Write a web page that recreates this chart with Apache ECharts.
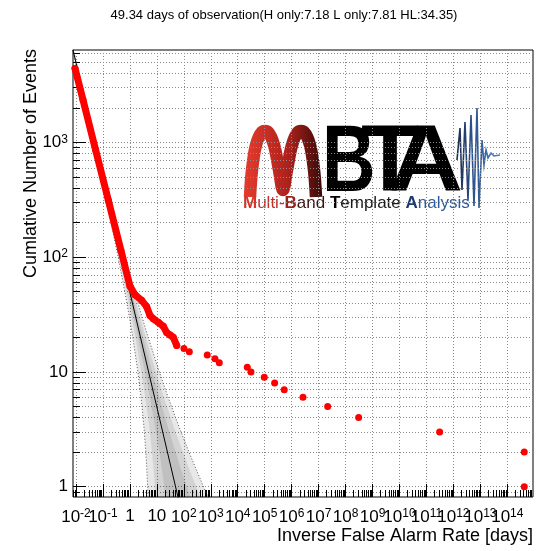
<!DOCTYPE html>
<html><head><meta charset="utf-8">
<script src="https://cdn.jsdelivr.net/npm/echarts@6/dist/echarts.min.js"></script>
<style>html,body{margin:0;padding:0;background:#fff}#c{width:537px;height:551px}</style>
</head><body><div id="c"></div>
<script>
const FONT = '"Liberation Sans", Arial, Helvetica, sans-serif';

// ---- observed events (IFAR in days, cumulative count) ----
const denseIFAR  = [0.0092, 0.0182, 0.0533, 0.158, 0.462, 1.0, 1.54, 2.73, 4.19, 5.56, 7.37, 11.3, 17.3, 23.1, 30.7, 40.6, 54.3];
const denseCount = [4400,   2340,   860,    313,   115,   56,  47,   42,   37,   31,   29,   27,   25,   22,   21,   20,   17];
const tailIFAR   = [101, 160, 740, 1430, 2070, 2.26e4, 3.1e4, 9.64e4, 2.34e5, 5.3e5, 2.63e6, 2.17e7, 3.06e8, 3.09e11, 4.25e14, 4.25e14];
const tailCount  = [16,  15,  14,  13,   12,   11,     10,    9,      8,      7,      6,      5,      4,      3,       2,       1];

// ---- expected background line and bands ----
const expectedIFAR  = [0.0077094, 70.486];
const expectedCount = [6400, 0.7];
const bandCounts = [6400, 1000, 300, 100, 50, 30, 20, 10, 6, 4, 3, 2, 1.5, 1, 0.7];
const band1Left  = [0.0076136, 0.047805, 0.15526, 0.44647, 0.85678, 1.3706, 1.9736, 3.601, 5.4822, 7.5195, 9.3046, 12.335, 14.849, 18.846, 22.687];
const band1Right = [0.0078063, 0.050924, 0.17422, 0.54526, 1.1366, 1.9736, 3.0838, 6.7603, 12.335, 20.234, 29.072, 49.34, 72.867, 129.17, 218.96];
const band2Left  = [0.0075191, 0.046316, 0.14654, 0.40409, 0.74438, 1.1440, 1.5832, 2.648, 3.7120, 4.7116, 5.4822, 6.6103, 7.4059, 8.4654, 9.2959];
const band2Right = [0.0079045, 0.052562, 0.18459, 0.60244, 1.3082, 2.3647, 3.8442, 9.1939, 18.217, 32.293, 49.34, 92.07, 146.10, 287.58, 534.42];
const band3Left  = [0.0074258, 0.044875, 0.13832, 0.36592, 0.64763, 0.95732, 1.2766, 1.9736, 2.5810, 3.0838, 3.4326, 3.8896, 4.1780, 4.5233, 4.7658];
const band3Right = [0.0080045, 0.05425, 0.19549, 0.66523, 1.5036, 2.8254, 4.7676, 12.335, 26.200, 49.34, 78.80, 156.44, 258.97, 538.22, 1042.5];

// ---- axes ----
const xTickExponents = [-2,-1,0,1,2,3,4,5,6,7,8,9,10,11,12,13,14];
const yTickExponents = [0,1,2,3];
const X_MIN = 0.00774, X_MAX = 8.97e14;
const Y_MIN = 0.813, Y_MAX = 6370;

const xMajor = xTickExponents.map(e => Math.pow(10, e));
const xLabelsEven = xTickExponents.filter(e => e % 2 === 0).map(e => Math.pow(10, e));
const xLabelsOdd  = xTickExponents.filter(e => e % 2 !== 0).map(e => Math.pow(10, e));
const yMajor = yTickExponents.map(e => Math.pow(10, e));
function minorValues(eFrom, eTo, lo, hi) {
  const out = [];
  for (let e = eFrom; e <= eTo; e++) for (let m = 2; m <= 9; m++) {
    const v = m * Math.pow(10, e);
    if (v > lo && v < hi) out.push(v);
  }
  return out;
}
const xMinor = minorValues(-3, 14, X_MIN, X_MAX);
const yMinor = minorValues(-1, 3, Y_MIN, Y_MAX);

function powLabel(v) {
  const e = Math.round(Math.log10(v));
  if (e === 0) return '1';
  if (e === 1) return '10';
  return '10{s|' + e + '}';
}

const pair = (xs, ys) => xs.map((x, i) => [x, ys[i]]);
const bands = [
  {left: band3Left, right: band3Right},
  {left: band2Left, right: band2Right},
  {left: band1Left, right: band1Right}
];

const gridBox = {left: 73, right: 4, top: 50, bottom: 54, outerBoundsMode: 'none', containLabel: false};
const gridLine = {show: true, lineStyle: {color: '#8a8a8a', width: 1, type: [1, 2]}};
const labelRich = {s: {fontSize: 12, fontFamily: FONT, color: '#000', verticalAlign: 'top', padding: [0, 0, 6, 0]}};
const xLabelBase = {show: true, formatter: powLabel, margin: 11, fontSize: 17, fontFamily: FONT, color: '#000', rich: labelRich,
                    showMinLabel: true, showMaxLabel: true, hideOverlap: false};

const option = {
  animation: false,
  backgroundColor: '#fff',
  grid: [
    Object.assign({show: true, borderColor: '#000', borderWidth: 1, backgroundColor: 'rgba(0,0,0,0)'}, gridBox),
    Object.assign({show: false}, gridBox)
  ],
  xAxis: [
    {type: 'log', logBase: 10, min: X_MIN, max: X_MAX, position: 'bottom', gridIndex: 0,
     axisLine: {show: false},
     axisTick: {show: true, inside: true, length: 13, lineStyle: {color: '#000'}, customValues: xMajor},
     axisLabel: Object.assign({customValues: xLabelsEven}, xLabelBase),
     splitLine: gridLine, minorTick: {show: false}},
    {type: 'log', logBase: 10, min: X_MIN, max: X_MAX, position: 'bottom', gridIndex: 1,
     axisLine: {show: false},
     axisTick: {show: true, inside: true, length: 7, lineStyle: {color: '#000'}, customValues: xMinor},
     axisLabel: Object.assign({customValues: xLabelsOdd}, xLabelBase),
     splitLine: {show: false}}
  ],
  yAxis: [
    {type: 'log', logBase: 10, min: Y_MIN, max: Y_MAX, position: 'left', gridIndex: 0,
     axisLine: {show: false},
     axisTick: {show: true, inside: true, length: 13, lineStyle: {color: '#000'}, customValues: yMajor},
     axisLabel: {show: true, customValues: yMajor, formatter: powLabel, margin: 5, fontSize: 17, fontFamily: FONT, color: '#000', rich: labelRich,
                 showMinLabel: true, showMaxLabel: true, hideOverlap: false},
     splitLine: gridLine},
    {type: 'log', logBase: 10, min: Y_MIN, max: Y_MAX, position: 'left', gridIndex: 1,
     axisLine: {show: false},
     axisTick: {show: true, inside: true, length: 7, lineStyle: {color: '#000'}, customValues: yMinor},
     axisLabel: {show: false}, splitLine: gridLine}
  ],
  series: [
    {type: 'custom', name: 'bands', xAxisIndex: 0, yAxisIndex: 0, clip: true, silent: true, z: 1,
     data: bands.map(() => [1, 1]),
     renderItem: function (params, api) {
       const b = bands[params.dataIndex];
       const pts = [];
       for (let i = 0; i < bandCounts.length; i++) pts.push(api.coord([b.left[i], bandCounts[i]]));
       for (let i = bandCounts.length - 1; i >= 0; i--) pts.push(api.coord([b.right[i], bandCounts[i]]));
       const cs = params.coordSys;
       return {type: 'polygon', shape: {points: pts}, style: {fill: 'rgba(0,0,0,0.09)'},
               clipPath: {type: 'rect', shape: {x: cs.x, y: cs.y, width: cs.width, height: cs.height}}};
     }},
    {type: 'line', name: 'band3L', xAxisIndex: 0, yAxisIndex: 0, data: pair(band3Left, bandCounts), showSymbol: false, silent: true, z: 2,
     lineStyle: {color: '#555', width: 1, type: [1, 2]}},
    {type: 'line', name: 'band3R', xAxisIndex: 0, yAxisIndex: 0, data: pair(band3Right, bandCounts), showSymbol: false, silent: true, z: 2,
     lineStyle: {color: '#555', width: 1, type: [1, 2]}},
    {type: 'line', name: 'expected', xAxisIndex: 0, yAxisIndex: 0, data: pair(expectedIFAR, expectedCount), showSymbol: false, silent: true, z: 3,
     lineStyle: {color: '#000', width: 1}},
    {type: 'line', name: 'eventsDense', xAxisIndex: 0, yAxisIndex: 0, data: pair(denseIFAR, denseCount), showSymbol: true, symbol: 'circle', symbolSize: 7, z: 4,
     itemStyle: {color: '#ff0000'}, lineStyle: {color: '#ff0000', width: 7, cap: 'round', join: 'round'}},
    {type: 'scatter', name: 'eventsTail', xAxisIndex: 0, yAxisIndex: 0, data: pair(tailIFAR, tailCount), symbol: 'circle', symbolSize: 7, z: 4,
     itemStyle: {color: '#ff0000', opacity: 1}}
  ],
  graphic: [
    {type: 'text', x: 284, y: 15, style: {text: '49.34 days of observation(H only:7.18 L only:7.81 HL:34.35)', font: '13px ' + FONT, fill: '#000', textAlign: 'center', textVerticalAlign: 'middle'}},
    {type: 'text', x: 31.5, y: 49, rotation: Math.PI / 2, style: {text: 'Cumlative Number of Events', font: '18px ' + FONT, fill: '#000', textAlign: 'right', textVerticalAlign: 'middle'}},
    {type: 'text', x: 533, y: 536, style: {text: 'Inverse False Alarm Rate [days]', font: '18px ' + FONT, fill: '#000', textAlign: 'right', textVerticalAlign: 'middle'}},
    // logo
    {type: 'group', z: 100, children: [
      {type: 'rect', shape: {x: 236, y: 99, width: 270, height: 115}, style: {fill: '#fff'}},
      {type: 'polyline', shape: {points: [[250,197],[252,170],[256,145],[262,132],[268,132],[274,145],[279,170],[283,190],[287,170],[292,145],[298,132],[304,132],[310,145],[314,170],[316,197]], smooth: 0.35},
       style: {fill: null, lineWidth: 12.5, lineJoin: 'round',
               stroke: new echarts.graphic.LinearGradient(0, 0, 1, 0, [{offset: 0, color: '#e53b2d'}, {offset: 0.55, color: '#b0221c'}, {offset: 1, color: '#3a0a08'}])}},
      {type: 'text', x: 322, y: 165, scaleX: 0.78, style: {text: 'B', font: 'bold 95px ' + FONT, fill: '#000', textAlign: 'left', textVerticalAlign: 'middle'}},
      {type: 'text', x: 361, y: 165, scaleX: 1.0, style: {text: 'T', font: 'bold 95px ' + FONT, fill: '#000', textAlign: 'left', textVerticalAlign: 'middle'}},
      {type: 'text', x: 389, y: 165, scaleX: 1.08, style: {text: 'A', font: 'bold 95px ' + FONT, fill: '#000', textAlign: 'left', textVerticalAlign: 'middle'}},
      {type: 'polyline', shape: {points: [[457,160],[460,128],[462,190],[465,122],[468,200],[471,115],[474,206],[477,108],[479,208],[482,140],[484,165],[486,150],[488,158],[491,153],[494,156],[500,155]]},
       style: {fill: null, lineWidth: 1.6,
               stroke: new echarts.graphic.LinearGradient(0, 0, 1, 0, [{offset: 0, color: '#1a2640'}, {offset: 0.35, color: '#2a4f8a'}, {offset: 1, color: '#4a86d0'}])}},
      {type: 'text', x: 243, y: 203, style: {
        text: '{r|M}{r2|ulti-}{b|B}{b2|and }{k|T}{k2|emplate }{a|A}{a2|nalysis}',
        textAlign: 'left', textVerticalAlign: 'middle',
        rich: {
          r:  {fontSize: 17, fontWeight: 'bold', fontFamily: FONT, fill: '#d9342a'},
          r2: {fontSize: 17, fontFamily: FONT, fill: '#c8302a'},
          b:  {fontSize: 17, fontWeight: 'bold', fontFamily: FONT, fill: '#9a2018'},
          b2: {fontSize: 17, fontFamily: FONT, fill: '#3a1410'},
          k:  {fontSize: 17, fontWeight: 'bold', fontFamily: FONT, fill: '#000'},
          k2: {fontSize: 17, fontFamily: FONT, fill: '#1a1a1a'},
          a:  {fontSize: 17, fontWeight: 'bold', fontFamily: FONT, fill: '#1c3a70'},
          a2: {fontSize: 17, fontFamily: FONT, fill: '#2d5a9c'}
        }}}
    ]}
  ]
};
const chart = echarts.init(document.getElementById('c'));
chart.setOption(option);
</script></body></html>
